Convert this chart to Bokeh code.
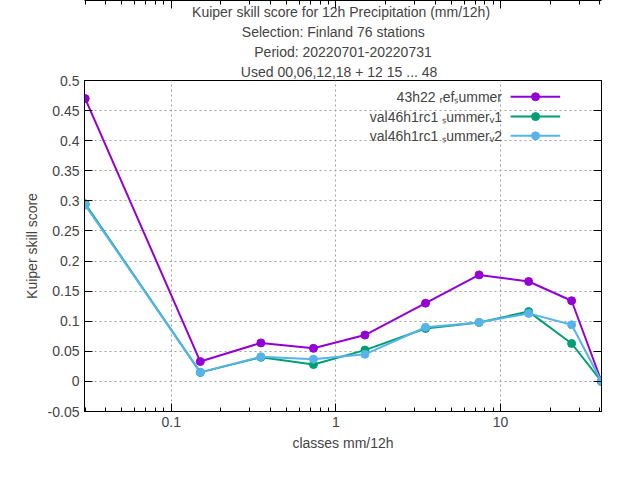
from bokeh.plotting import figure
from bokeh.models import LogAxis, LinearAxis, Title, Label, FixedTicker, LogTicker, Range1d, CustomJSTickFormatter
from bokeh.embed import file_html
from bokeh.resources import INLINE

classes = [0.03, 0.15, 0.35, 0.73, 1.5, 3.5, 7.4, 14.8, 27, 41]
ref = [0.47, 0.033, 0.064, 0.055, 0.077, 0.13, 0.177, 0.166, 0.134, 0.0]
v1 = [0.295, 0.015, 0.040, 0.028, 0.052, 0.088, 0.098, 0.116, 0.063, 0.0]
v2 = [0.293, 0.015, 0.041, 0.037, 0.045, 0.090, 0.098, 0.113, 0.094, 0.0]
names = ["43h22 ᵣefₛummer", "val46h1rc1 ₛummerᵥ1", "val46h1rc1 ₛummerᵥ2"]
colors = ["#9400d3", "#009e73", "#56b4e9"]
titles = ["Kuiper skill score  for 12h Precipitation (mm/12h)",
          "Selection: Finland      76 stations",
          "Period: 20220701-20220731",
          "Used  00,06,12,18  + 12 15 ... 48"]
yticks = [round(-0.05 + 0.05 * i, 2) for i in range(12)]

F = "Liberation Sans"
p = figure(width=624, height=464, x_axis_type="log", output_backend="svg", toolbar_location=None,
           x_range=Range1d(0.0297, 41.0), y_range=Range1d(-0.05, 0.5),
           min_border_left=84, min_border_right=23, min_border_bottom=53, min_border_top=10)
p.outline_line_color = "black"
p.background_fill_color = "white"
p.border_fill_color = "white"

for t in reversed(titles):
    p.add_layout(Title(text=t, align="center", text_font=F, text_font_size="14px",
                       text_font_style="normal", standoff=2), "above")

p.xaxis.ticker = LogTicker(desired_num_ticks=4, num_minor_ticks=10)
p.yaxis.ticker = FixedTicker(ticks=yticks)
for ax in [p.xaxis[0], p.yaxis[0]]:
    ax.major_tick_out = 0
    ax.major_tick_in = 8
    ax.minor_tick_out = 0
    ax.minor_tick_in = 4
    ax.major_label_text_font = F
    ax.major_label_text_font_size = "14px"
    ax.axis_label_text_font = F
    ax.axis_label_text_font_size = "14px"
    ax.axis_label_text_font_style = "normal"
p.yaxis.minor_tick_in = 0
p.xaxis.axis_label = "classes mm/12h"
p.yaxis.axis_label = "Kuiper skill score"
p.yaxis.formatter = CustomJSTickFormatter(code="return (Math.round(tick*100)/100).toString()")
p.xaxis.formatter = CustomJSTickFormatter(code="return (Math.round(tick*1000)/1000).toString()")

ax2 = LinearAxis(ticker=FixedTicker(ticks=yticks), major_label_text_color=None,
                 major_label_text_font_size="6px", major_label_standoff=0,
                 major_tick_out=0, major_tick_in=8, minor_tick_in=0, minor_tick_out=0)
p.add_layout(ax2, "right")
ax3 = LogAxis(ticker=LogTicker(desired_num_ticks=4, num_minor_ticks=10), major_label_text_color=None,
              major_label_text_font_size="6px", major_label_standoff=0,
              major_tick_out=0, major_tick_in=8, minor_tick_in=4, minor_tick_out=0)
p.add_layout(ax3, "above")

p.grid.grid_line_color = "#a0a0a0"
p.grid.grid_line_dash = "2 3"
p.xgrid.ticker = FixedTicker(ticks=[0.1, 1, 10])
p.ygrid.ticker = FixedTicker(ticks=yticks)

for ys, c in zip([ref, v1, v2], colors):
    p.line(classes, ys, line_color=c, line_width=2)
    p.scatter(classes, ys, color=c, size=8, marker="circle")

leg_y = [0.473, 0.440, 0.408]
for name, c, ly in zip(names, colors, leg_y):
    p.line([11.5, 23], [ly, ly], line_color=c, line_width=2)
    p.scatter([16.3], [ly], color=c, size=8)
    p.add_layout(Label(x=10.2, y=ly, text=name, text_align="right", text_baseline="middle",
                       text_font=F, text_font_size="14px"))

open("out.html", "w").write(file_html(p, INLINE))
